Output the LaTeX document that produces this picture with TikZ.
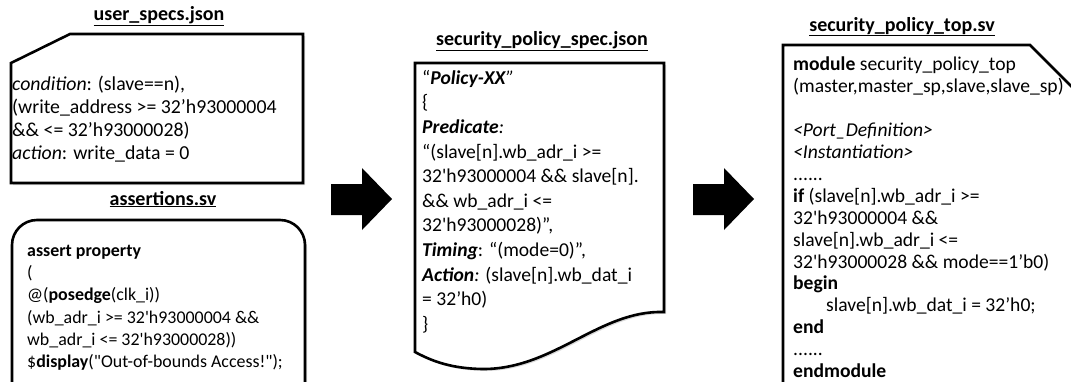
\documentclass[tikz,border=0pt]{standalone}
\usepackage{fontspec}
\setmainfont{Carlito}[Ligatures=TeXOff]
\usetikzlibrary{shadows}

\tikzset{
  filebox/.style={draw, line width=2.6pt, fill=white, line join=miter,
    drop shadow={opacity=0.3, shadow xshift=2pt, shadow yshift=-2pt}},
  filetitle/.style={font=\bfseries\fontsize{20}{24}\selectfont, inner sep=0pt, anchor=base},
  filetext/.style={align=left, anchor=north west, inner sep=0pt},
  blockarrow/.style={fill=black}
}

\begin{document}
\begin{tikzpicture}[x=1pt, y=-1pt]
\clip (0,0) rectangle (1071,381);
% user_specs.json
\node[filetitle] (usertitle) at (159,20) {\underline{user\_specs.json}};
\draw[filebox] (11,63) -- (70,34) -- (303,34) -- (303,183) -- (11,183) -- cycle;
\node[filetext, font=\fontsize{19.8}{23}\selectfont] (usertext) at (12,76)
  {\textit{condition}: (slave==n),\\
   (write\_address >= 32’h93000004\\
   \&\& <= 32’h93000028)\\
   \textit{action}: write\_data = 0};
% assertions.sv
\node[filetitle] (asserttitle) at (163,205) {\underline{assertions.sv}};
\draw[filebox, rounded corners=25pt] (12,400) -- (12,220) -- (305,220) -- (305,400);
\node[filetext, font=\fontsize{17.9}{22.2}\selectfont] (asserttext) at (27,245)
  {\textbf{assert property}\\
   (\\
   @(\textbf{posedge}(clk\_i))\\
   (wb\_adr\_i >= 32'h93000004 \&\&\\
   wb\_adr\_i <= 32'h93000028))\\
   \$\textbf{display}("Out-of-bounds Access!");};
% arrow to the spec
\fill[blockarrow] (331,184) -- (362,184) -- (362,168) -- (392,199)
  -- (362,230) -- (362,215) -- (331,215) -- cycle;
% security_policy_spec.json
\node[filetitle] (spectitle) at (542,45) {\underline{security\_policy\_spec.json}};
\draw[filebox] (415,63) -- (664,63) -- (664,312)
  .. controls (600,310) and (555,368) .. (485,369)
  .. controls (450,369) and (430,360) .. (415,352) -- cycle;
\node[filetext, font=\fontsize{19.6}{24.6}\selectfont] (spectext) at (422,70)
  {“\textbf{\textit{Policy-XX}}\textit{”}\\
   \{\\
   \textbf{\textit{Predicate}}\textit{:}\\
   “(slave[n].wb\_adr\_i >=\\
   32'h93000004 \&\& slave[n].\\
   \&\& wb\_adr\_i <=\\
   32'h93000028)”,\\
   \textbf{\textit{Timing}}: “(mode=0)”,\\
   \textbf{\textit{Action}}\textit{:} (slave[n].wb\_dat\_i\\
   = 32’h0)\\
   \}};
% arrow to the top module
\fill[blockarrow] (693,184) -- (724,184) -- (724,168) -- (754,199)
  -- (724,230) -- (724,215) -- (693,215) -- cycle;
% security_policy_top.sv
\node[filetitle] (toptitle) at (902,31) {\underline{security\_policy\_top.sv}};
\draw[filebox] (783,400) -- (783,45) -- (1030,45) -- (1090,105) -- (1090,400);
\node[filetext, font=\fontsize{19.6}{21.9}\selectfont] (toptext) at (793,57)
  {\textbf{module} security\_policy\_top\\
   (master,master\_sp,slave,slave\_sp)\\
   \mbox{}\\
   \textit{<Port\_Definition>}\\
   \textit{<Instantiation>}\\
   ......\\
   \textbf{if} (slave[n].wb\_adr\_i >=\\
   32'h93000004 \&\&\\
   slave[n].wb\_adr\_i <=\\
   32'h93000028 \&\& mode==1’b0)\\
   \textbf{begin}\\
   \hspace*{33pt}slave[n].wb\_dat\_i = 32’h0;\\
   \textbf{end}\\
   ......\\
   \textbf{endmodule}};
\end{tikzpicture}
\end{document}
